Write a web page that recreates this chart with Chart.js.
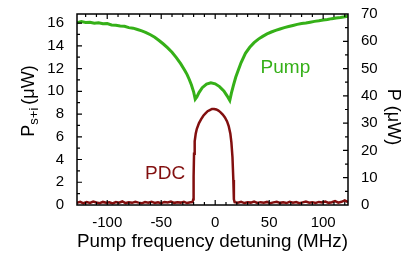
<!DOCTYPE html>
<html>
<head>
<meta charset="utf-8">
<script src="https://cdn.jsdelivr.net/npm/chart.js@4.4.1/dist/chart.umd.min.js"></script>
<style>
  html, body { margin: 0; padding: 0; background: #fff; }
  canvas { display: block; }
</style>
</head>
<body>
<canvas id="chart" width="409" height="253"></canvas>
<script>
// Pump transmission (right axis, uW) vs detuning (MHz)
var pumpX = [-128,-124,-120,-116,-112,-108,-104,-100,-96,-92,-88,-84,-80,-76,-72,-68,-64,-60,-56,-52,-48,-44,-40,-36,-32,-28,-26,-24,-22,-20,-18.5,-17,-15,-12,-8,-4,0,4,8,11,13.5,15,17,19,21,24,28,32,36,40,44,48,52,56,60,64,68,72,76,80,84,88,92,96,100,104,108,112,116,120,123];
var pumpP = [66.8,67.2,66.9,67.0,66.6,66.8,66.4,66.5,66.0,65.9,65.6,65.5,65.0,64.8,64.3,63.8,63.2,62.4,61.5,60.3,59.0,57.6,56.0,54.0,51.8,49.2,47.8,46.0,44.0,41.5,38.8,39.6,41.2,43.0,44.3,44.8,44.4,43.4,41.8,40.0,38.3,41.0,44.0,46.8,49.0,52.2,55.6,57.8,59.5,60.8,61.8,62.7,63.4,64.0,64.5,65.0,65.4,65.8,66.2,66.5,66.7,67.0,67.3,67.5,67.8,68.0,68.3,68.5,68.7,69.0,69.2];

// PDC signal (left axis, uW)
var pdcX = [-128,-125,-122,-119,-116,-113,-110,-107,-104,-101,-98,-95,-92,-89,-86,-83,-80,-77,-74,-71,-68,-65,-62,-59,-56,-53,-50,-47,-44,-41,-38,-35,-32,-29,-26,-23,-21,
  -20.3,-20,-19.6,-19,-18,-17,-15,-13,-11,-9,-7,-5,-3,-1,1,3,5,7,9,11,12.5,14,15,16,16.8,17.3,
  18,21,24,27,30,33,36,39,42,45,48,51,54,57,60,63,66,69,72,75,78,81,84,87,90,93,96,99,102,105,108,111,114,117,120,123];
var pdcP = [0.20,0.28,0.15,0.25,0.18,0.30,0.22,0.16,0.27,0.20,0.24,0.14,0.26,0.20,0.31,0.17,0.23,0.19,0.28,0.21,0.15,0.26,0.20,0.29,0.18,0.24,0.16,0.27,0.22,0.30,0.19,0.25,0.21,0.28,0.17,0.24,0.26,
  0.5,2.5,4.5,5.6,6.3,6.7,7.2,7.55,7.85,8.05,8.25,8.35,8.45,8.45,8.4,8.3,8.15,7.95,7.7,7.35,6.95,6.3,5.5,4.2,2.2,0.5,
  0.25,0.20,0.28,0.17,0.24,0.21,0.30,0.18,0.25,0.20,0.27,0.15,0.23,0.29,0.19,0.24,0.17,0.28,0.21,0.26,0.16,0.23,0.30,0.20,0.25,0.18,0.27,0.22,0.31,0.19,0.24,0.35,0.21,0.28,0.40,0.25];

// tick labels
var xTicks = [-100, -50, 0, 50, 100];
var yTicks = [0, 2, 4, 6, 8, 10, 12, 14, 16];
var y2Ticks = [0, 10, 20, 30, 40, 50, 60, 70];

var green = "#35b018";
var darkRed = "#820f0f";
var font = "Liberation Sans, Arial, Helvetica, sans-serif";

// frame, inner ticks, axis titles and curve labels
var decorations = {
  id: "decorations",
  afterDatasetsDraw: function(chart) {
    var ctx = chart.ctx;
    var a = chart.chartArea;
    var sx = chart.scales.x, sy = chart.scales.y, sy2 = chart.scales.y2;
    ctx.save();
    ctx.strokeStyle = "#000";
    ctx.lineWidth = 1.5;
    ctx.strokeRect(a.left, a.top, a.right - a.left, a.bottom - a.top);

    ctx.lineWidth = 1.2;
    ctx.beginPath();
    for (var v = -120; v <= 120; v += 10) {
      var px = sx.getPixelForValue(v);
      var len = v % 50 === 0 ? 5 : 3;
      ctx.moveTo(px, a.bottom); ctx.lineTo(px, a.bottom - len);
      ctx.moveTo(px, a.top); ctx.lineTo(px, a.top + len);
    }
    for (var v = 1; v <= 16; v += 1) {
      var py = sy.getPixelForValue(v);
      var len = v % 2 === 0 ? 5 : 3;
      ctx.moveTo(a.left, py); ctx.lineTo(a.left + len, py);
    }
    for (var v = 5; v <= 65; v += 5) {
      var py = sy2.getPixelForValue(v);
      var len = v % 10 === 0 ? 5 : 3;
      ctx.moveTo(a.right, py); ctx.lineTo(a.right - len, py);
    }
    ctx.stroke();

    // left title with subscript
    ctx.fillStyle = "#000";
    ctx.textBaseline = "alphabetic";
    var big = "18px " + font, small = "13px " + font;
    ctx.font = big; var wP = ctx.measureText("P").width; var wU = ctx.measureText("(\u03bcW)").width;
    ctx.font = small; var wS = ctx.measureText("s+i").width;
    var gap = 3;
    var total = wP + wS + gap + wU;
    ctx.save();
    ctx.translate(34, 101);
    ctx.rotate(-Math.PI / 2);
    ctx.textAlign = "left";
    var x0 = -total / 2;
    ctx.font = big; ctx.fillText("P", x0, 0);
    ctx.font = small; ctx.fillText("s+i", x0 + wP, 4);
    ctx.font = big; ctx.fillText("(\u03bcW)", x0 + wP + wS + gap, 0);
    ctx.restore();

    // right title
    ctx.save();
    ctx.translate(388, 117);
    ctx.rotate(Math.PI / 2);
    ctx.font = big;
    ctx.textAlign = "center";
    ctx.fillText("P (\u03bcW)", 0, 0);
    ctx.restore();

    // curve labels
    ctx.font = "19px " + font;
    ctx.fillStyle = green;
    ctx.textAlign = "center";
    ctx.fillText("Pump", sx.getPixelForValue(65), sy2.getPixelForValue(48.2));
    ctx.fillStyle = darkRed;
    ctx.textAlign = "right";
    ctx.fillText("PDC", sx.getPixelForValue(-27.8), sy.getPixelForValue(2.3));
    ctx.restore();
  }
};

function toPoints(xs, ys) {
  return xs.map(function(x, i) { return { x: x, y: ys[i] }; });
}

function fixedTicks(values) {
  return function(s) { s.ticks = values.map(function(v) { return { value: v }; }); };
}

var chart = new Chart(document.getElementById("chart"), {
  type: "line",
  data: {
    datasets: [
      {
        label: "PDC",
        data: toPoints(pdcX, pdcP),
        yAxisID: "y",
        borderColor: darkRed,
        borderWidth: 2.5,
        pointRadius: 0,
        tension: 0
      }, {
        label: "Pump",
        data: toPoints(pumpX, pumpP),
        yAxisID: "y2",
        borderColor: green,
        borderWidth: 3,
        pointRadius: 0,
        tension: 0
      }
    ]
  },
  options: {
    responsive: false,
    animation: false,
    layout: { padding: { top: 12, left: 0, right: 0, bottom: 0 } },
    plugins: { legend: { display: false }, tooltip: { enabled: false }, title: { display: false } },
    scales: {
      x: {
        type: "linear",
        min: -128,
        max: 123,
        grid: { display: false },
        border: { display: false },
        afterBuildTicks: fixedTicks(xTicks),
        ticks: { padding: 1, color: "#000", font: { family: font, size: 15 } },
        title: { display: true, text: "Pump frequency detuning (MHz)", color: "#000", font: { family: font, size: 19 }, padding: 0 },
        afterFit: function(s) { s.height = 48; }
      },
      y: {
        position: "left",
        min: 0,
        max: 16.8,
        grid: { display: false },
        border: { display: false },
        afterBuildTicks: fixedTicks(yTicks),
        ticks: { padding: 5, color: "#000", font: { family: font, size: 15 } },
        afterFit: function(s) { s.width = 77; }
      },
      y2: {
        position: "right",
        min: 0,
        max: 70,
        grid: { display: false },
        border: { display: false },
        afterBuildTicks: fixedTicks(y2Ticks),
        ticks: { padding: 5, color: "#000", font: { family: font, size: 15 } },
        afterFit: function(s) { s.width = 61; }
      }
    }
  },
  plugins: [decorations]
});
</script>
</body>
</html>
